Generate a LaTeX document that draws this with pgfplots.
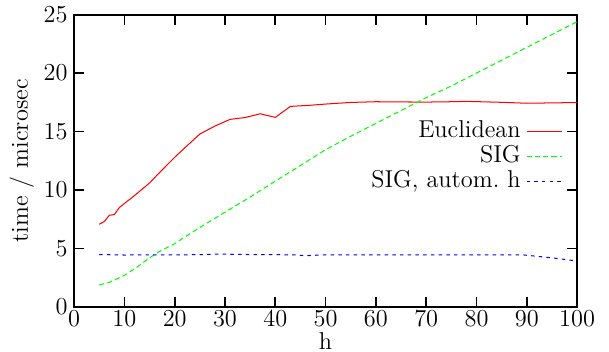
\documentclass[border=0pt]{standalone}
\usepackage{pgfplots}
\pgfplotsset{compat=1.18}
\begin{document}
\begin{tikzpicture}
\begin{axis}[
  scale only axis,
  width=247.8pt, height=144pt,
  xmin=0, xmax=100, ymin=0, ymax=25,
  xtick={0,10,...,100}, ytick={0,5,...,25},
  tick label style={font=\large},
  label style={font=\large},
  axis line style={line width=0.9pt},
  every tick/.style={black, line width=0.8pt},
  major tick length=4.9pt,
  xticklabel style={inner sep=1pt, yshift=-0.8pt},
  yticklabel style={inner sep=1pt, xshift=-2pt},
  xlabel={h}, ylabel={time / microsec},
  ylabel style={at={(axis description cs:-0.104,0.5)}, anchor=center},
  xlabel style={at={(axis description cs:0.5,0)}, anchor=north, inner sep=0pt, yshift=-12.6pt},
  legend cell align=right,
  legend plot pos=right,
  legend style={draw=none, fill=none, inner sep=0pt, outer sep=0pt, font=\large,
    at={(axis description cs:0.9718,0.6417)}, anchor=north east,
    nodes={text height=8.5pt, text depth=2.5pt, inner sep=0.65pt},
    column sep=2pt},
  legend image code/.code={\draw[#1] (0pt,0pt) -- (17.7pt,0pt);},
]
\addplot[red, line width=0.5pt] coordinates {
(5,7.07) (6,7.3) (7,7.84) (8,7.9) (9,8.5) (10,8.85) (11.5,9.35) (12.5,9.7)
(15,10.6) (17,11.5) (20,12.8) (22.5,13.8) (25,14.79) (28,15.47) (31,16.04)
(34,16.2) (37,16.52) (40,16.21) (43,17.15) (47,17.25) (50,17.35) (55,17.49)
(60,17.55) (65,17.53) (70,17.52) (75,17.55) (78,17.58) (85,17.5) (90,17.42)
(95,17.45) (100,17.48)
};
\addlegendentry{Euclidean}
\addplot[green, line width=0.5pt, dash pattern=on 2.5pt off 1.6pt] coordinates {
(5,1.88) (7,2.1) (10,2.7) (12.5,3.4) (15,4.2) (17,4.75) (20,5.4) (21.6,5.87)
(25,6.8) (30,8.1) (35,9.4) (40,10.75) (45,12.1) (50,13.45) (55,14.6)
(60,15.7) (65,16.8) (70,17.9) (75,18.9) (80,20.0) (85,21.1) (90,22.2)
(95,23.3) (100,24.4)
};
\addlegendentry{SIG}
\addplot[blue, line width=0.5pt, dash pattern=on 1.7pt off 2.1pt] coordinates {
(5,4.48) (10,4.44) (15,4.45) (20,4.45) (25,4.47) (29,4.52) (35,4.48) (40,4.47)
(44,4.45) (46,4.38) (48,4.42) (50,4.46) (60,4.46) (70,4.46) (80,4.46)
(89,4.46) (92,4.33) (95,4.2) (100,3.93)
};
\addlegendentry{SIG, autom.\ h}
\end{axis}
\pgfresetboundingbox
\path[use as bounding box] (-36.5pt,-22.2pt) rectangle (263.5pt,151.2pt);
\end{tikzpicture}
\end{document}
